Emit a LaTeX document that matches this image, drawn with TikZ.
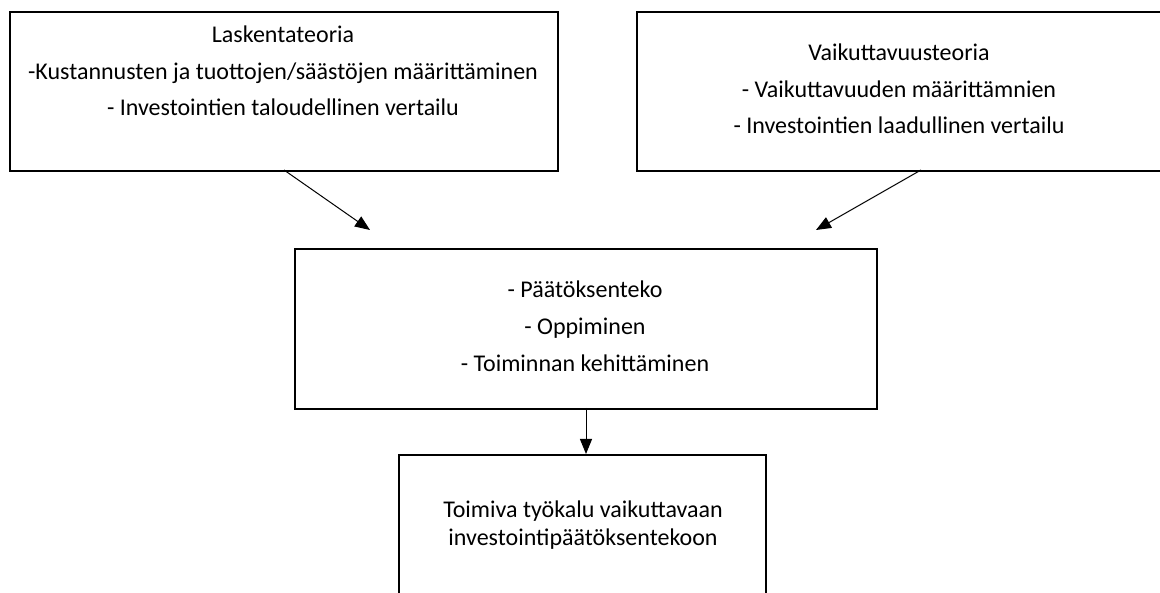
\documentclass[tikz,border=0pt]{standalone}
\usepackage{fontspec}
\setmainfont{Carlito}
\usetikzlibrary{arrows.meta}

\tikzset{
  frame/.style={draw=black, line width=2.4pt, rectangle, inner sep=0pt, anchor=north west},
  txt/.style={anchor=base, inner sep=0pt, font=\fontsize{24}{29}\selectfont},
  arr/.style={draw=black, line width=1pt, -{Triangle[length=15pt,width=12pt]}}
}

\begin{document}
\begin{tikzpicture}[x=1pt, y=-1pt]
  \useasboundingbox (0,0) rectangle (1160,593);
  \clip (0,0) rectangle (1160,593);

  % boxes
  \node[frame, minimum width=548pt, minimum height=159pt] (b1) at (9,11) {};
  \node[frame, minimum width=526pt, minimum height=159pt] (b2) at (636,11) {};
  \node[frame, minimum width=582pt, minimum height=160pt] (b3) at (294,248) {};
  \node[frame, minimum width=367pt, minimum height=170pt] (b4) at (398,454) {};

  % texts of the left box
  \node[txt] (t11) at (283,43) {Laskentateoria};
  \node[txt] (t12) at (283,80) {-Kustannusten ja tuottojen/säästöjen määrittäminen};
  \node[txt] (t13) at (283,116) {- Investointien taloudellinen vertailu};

  % texts of the right box
  \node[txt] (t21) at (899,61) {Vaikuttavuusteoria};
  \node[txt] (t22) at (899,98) {- Vaikuttavuuden määrittämnien};
  \node[txt] (t23) at (899,134) {- Investointien laadullinen vertailu};

  % texts of the middle box
  \node[txt] (t31) at (585,298) {- Päätöksenteko};
  \node[txt] (t32) at (585,335) {- Oppiminen};
  \node[txt] (t33) at (585,372) {- Toiminnan kehittäminen};

  % texts of the bottom box
  \node[txt] (t41) at (583,518) {Toimiva työkalu vaikuttavaan};
  \node[txt] (t42) at (583,545) {investointipäätöksentekoon};

  % connectors
  \coordinate (s1) at (284,170);
  \coordinate (e1) at (370,230);
  \coordinate (s2) at (921,170);
  \coordinate (e2) at (816,230);
  \coordinate (s3) at (586,408);
  \coordinate (e3) at (586,454);
  \draw[arr] (s1) -- (e1);
  \draw[arr] (s2) -- (e2);
  \draw[arr] (s3) -- (e3);
\end{tikzpicture}
\end{document}
